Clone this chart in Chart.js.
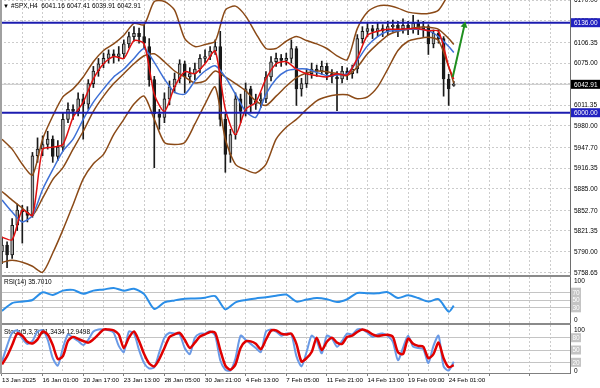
<!DOCTYPE html>
<html>
<head>
<meta charset="utf-8">
<script src="https://cdn.jsdelivr.net/npm/chart.js@4.4.1/dist/chart.umd.min.js"></script>
<style>
  html, body { margin: 0; padding: 0; background: #fff; }
  #wrap { position: relative; width: 600px; height: 388px; overflow: hidden; background: #fff; }
  canvas { position: absolute; left: 0; }
  .sep { position: absolute; left: 0; width: 571px; height: 2px; background: #8a8a8a; }
</style>
</head>
<body>
<div id="wrap">
  <canvas id="priceChart" width="600" height="275" style="top:0"></canvas>
  <canvas id="rsiChart" width="600" height="46" style="top:277px"></canvas>
  <canvas id="stochChart" width="600" height="63" style="top:325px"></canvas>
  <div class="sep" style="top:275px"></div>
  <div class="sep" style="top:323px"></div>
  <div class="sep" style="top:0;width:2px;height:374px;background:#a0a0a0"></div>
</div>
<script>
// time axis labels, one every 8 slots
const timeLabels = ["13 Jan 2025", "16 Jan 01:00", "20 Jan 17:00", "23 Jan 13:00", "28 Jan 05:00",
  "30 Jan 21:00", "4 Feb 13:00", "7 Feb 05:00", "11 Feb 21:00", "14 Feb 13:00", "19 Feb 09:00", "24 Feb 01:00"];

// candles (#SPX H4)
const opens = [5790,5800,5785,5830,5853,5850,5845,5935,5945,5952,
  5960,5934,5948,5990,6005,6002,6021,6013,6044,6063,
  6074,6082,6089,6085,6089,6104,6115,6120,6115,6100,
  6050,5998,5993,6021,6039,6051,6074,6054,6059,6066,
  6082,6085,6093,6100,5990,5937,5967,6021,6002,6036,
  6013,6018,6021,6054,6077,6082,6079,6082,6097,6036,
  6044,6059,6066,6063,6070,6059,6054,6051,6063,6059,
  6066,6112,6123,6127,6123,6127,6124,6130,6132,6127,
  6132,6127,6135,6127,6130,6104,6120,6112,6051,6041.16];
const highs = [5812,5805,5840,5862,5860,5858,5940,5962,5965,5972,
  5965,5958,6000,6015,6012,6030,6028,6050,6070,6082,
  6090,6095,6095,6100,6110,6122,6130,6128,6132,6112,
  6055,6005,6030,6048,6060,6080,6078,6068,6075,6088,
  6095,6100,6110,6123,5998,5975,6030,6028,6045,6040,
  6028,6030,6062,6085,6090,6088,6090,6110,6100,6052,
  6066,6075,6072,6078,6075,6065,6062,6070,6068,6072,
  6118,6130,6135,6132,6136,6133,6138,6140,6138,6142,
  6138,6147,6140,6138,6133,6125,6125,6115,6058,6047.41];
const lows = [5772,5766,5780,5822,5803,5835,5842,5925,5935,5945,
  5925,5928,5942,5985,5990,5995,5960,6005,6038,6055,
  6068,6075,6075,6078,6082,6098,6108,6105,6098,6040,
  5917,5975,5985,6012,6030,6045,6030,6045,6050,6060,
  6075,6080,6088,5980,5910,5925,5960,5985,5995,6000,
  6005,6008,6015,6048,6070,6070,6072,6075,6011,6025,
  6038,6052,6055,6058,6050,6045,6003,6045,6050,6052,
  6060,6105,6115,6112,6115,6115,6118,6122,6115,6120,
  6118,6120,6118,6115,6088,6098,6105,6025,6011,6039.91];
const closes = [5800,5785,5830,5853,5850,5845,5935,5945,5952,5960,
  5934,5948,5990,6005,6002,6021,6013,6044,6063,6074,
  6082,6089,6085,6089,6104,6115,6120,6115,6105,6050,
  5998,5993,6021,6039,6051,6074,6054,6059,6066,6082,
  6085,6093,6100,5990,5937,5967,6021,6002,6036,6013,
  6018,6021,6054,6077,6082,6079,6082,6097,6036,6044,
  6059,6066,6063,6070,6059,6054,6051,6063,6059,6066,
  6112,6123,6127,6123,6127,6124,6130,6132,6127,6132,
  6127,6135,6127,6130,6104,6120,6112,6051,6036,6042.91];

// indicator lines, read every second candle (last point = last candle)
const bbUpper = [5960,5945,5922,5906,5960,5995,6024,6036,6054,6077,
  6094,6104,6117,6135,6133,6168,6168,6155,6112,6100,
  6103,6108,6155,6161,6146,6120,6097,6097,6108,6115,
  6109,6104,6097,6086,6080,6127,6152,6161,6162,6158,
  6152,6150,6150,6155,6180,6196];
const bbMiddle = [5881,5868,5856,5845,5871,5899,5917,5945,5972,6002,
  6025,6044,6059,6074,6086,6089,6077,6063,6054,6045,
  6048,6063,6054,6044,6033,6018,6011,6025,6040,6053,
  6060,6063,6062,6059,6056,6069,6089,6104,6117,6123,
  6126,6129,6129,6126,6112,6103];
const bbLower = [5774,5777,5774,5768,5759,5788,5823,5861,5900,5923,
  5937,5967,5990,6013,6025,5990,5955,5952,5955,5983,
  6013,6039,5960,5922,5914,5909,5922,5960,5978,5990,
  6005,6018,6024,6027,6027,6021,6024,6039,6066,6094,
  6108,6112,6114,6109,6069,6045];
const maRed = [5812,5808,5853,5845,5945,5948,5952,5993,6016,6051,
  6074,6085,6082,6109,6104,6028,6002,6039,6062,6059,
  6074,6093,6005,5967,6005,6016,6051,6074,6077,6066,
  6059,6056,6054,6059,6057,6082,6117,6123,6126,6126,
  6127,6127,6124,6123,6070,6051];
const maBlue = [5868,5850,5835,5845,5884,5914,5942,5960,5990,6016,
  6036,6054,6066,6082,6097,6076,6051,6031,6028,6048,
  6063,6071,6054,6028,6002,5993,6028,6051,6063,6066,
  6066,6061,6056,6057,6059,6079,6101,6115,6123,6124,
  6126,6126,6124,6115,6100,6091];
const rsi = [22,42,46,50,70,63,74,76,66,74,
  77,81,74,79,65,27,44,49,53,54,
  56,60,26,44,50,54,57,61,64,46,
  51,55,52,45,52,68,67,67,70,55,
  62,55,46,52,20,35.701];

// stochastic, one value per candle
const stochMain = [22,60,92,98,78,65,72,95,98,75,
  30,12,55,88,80,72,62,75,95,100,
  100,98,92,60,45,95,90,50,18,5,
  8,45,80,92,90,88,55,40,80,90,
  90,96,85,25,2,0,30,85,75,65,
  55,45,95,100,95,85,90,88,35,10,
  45,85,72,42,85,78,58,72,90,88,
  100,100,92,82,88,90,84,70,25,55,
  85,58,55,52,18,60,85,10,0,21.3434];
const stochSignal = [15,35,62,90,85,70,66,76,95,88,
  62,28,35,72,82,77,72,68,76,88,
  100,100,98,88,55,80,95,72,40,17,
  10,28,55,82,88,92,75,55,68,83,
  88,94,92,50,12,2,15,55,71,71,
  65,52,75,97,98,90,88,90,65,22,
  30,45,80,50,70,80,68,65,82,85,
  94,100,96,88,84,86,87,82,45,40,
  78,65,60,58,30,40,68,30,8,12.9498];

const priceTicks = [6170, 6138.65, 6106.35, 6075, 6043.65, 6011.35, 5980, 5947.7,
  5916.35, 5885, 5852.7, 5821.35, 5790, 5758.65];
const levels = [6136, 6000];
const arrowFrom = { x: 88.8, y: 6054 };
const arrowTo = { x: 91.1, y: 6132 };

const xMin = -0.394, xMax = 111.9;
const gridX = [];
for (let v = 0; v <= 108; v += 4) gridX.push(v);
const last = closes.length - 1;
const FONT = '"Liberation Sans", "DejaVu Sans", sans-serif';
Chart.defaults.font.family = FONT;

const linePoints = arr => arr.map((y, k) => ({ x: Math.min(2 * k, last), y }));
const hline = (y) => [{ x: xMin, y }, { x: xMax, y }];

function line(data, color, width, order) {
  return { type: "line", data, borderColor: color, borderWidth: width, pointRadius: 0,
    tension: 0.25, order };
}

function xAxis(extra) {
  return Object.assign({
    type: "linear", min: xMin, max: xMax, offset: false,
    afterBuildTicks: s => { s.ticks = gridX.map(v => ({ value: v })); },
    ticks: { display: false },
    grid: { color: "#cccccc", drawTicks: false, offset: false },
    border: { display: false, dash: [2, 2] },
    afterFit: s => { s.height = 0; s.paddingLeft = 0; s.paddingRight = 0; },
  }, extra || {});
}

// right value axis; its text is painted by the axisText plugin at the scale's own pixels
function yAxis(min, max, ticks, extra) {
  return Object.assign({
    position: "right", min, max,
    afterBuildTicks: s => { s.ticks = ticks.map(v => ({ value: v })); },
    ticks: { display: false },
    grid: { color: "#cccccc", drawTicks: false },
    border: { color: "#6e6e6e", width: 1, dash: [2, 2] },
    afterFit: s => { s.width = 30; s.paddingTop = 0; s.paddingBottom = 0; },
  }, extra || {});
}

// plain and boxed labels on the right axis
const axisText = {
  id: "axisText",
  afterDraw(chart, args, opts) {
    const { ctx, chartArea, scales } = chart;
    ctx.save();
    ctx.font = "6.5px " + FONT;
    ctx.textBaseline = "middle";
    (opts.items || []).forEach(it => {
      const py = scales.y.getPixelForValue(it.value);
      const w = it.w || 29;
      if (it.bg) {
        ctx.fillStyle = it.bg;
        ctx.fillRect(chartArea.right + 1, py - 4.5, w, 9);
      }
      ctx.fillStyle = it.fg || "#000";
      ctx.textAlign = it.w ? "center" : "left";
      ctx.fillText(it.text, it.w ? chartArea.right + 1 + w / 2 : chartArea.right + 4, py + 0.5);
    });
    ctx.restore();
  }
};

const panelTitle = {
  id: "panelTitle",
  beforeDatasetsDraw(chart, args, opts) {
    const ctx = chart.ctx;
    ctx.save();
    ctx.font = "6.5px " + FONT;
    ctx.fillStyle = "#000";
    ctx.textBaseline = "middle";
    ctx.fillText(opts.text, opts.x, opts.y);
    ctx.restore();
  }
};

const common = {
  responsive: false, animation: false, devicePixelRatio: 1,
  layout: { padding: 0, autoPadding: false },
  plugins: { legend: { display: false }, tooltip: { enabled: false } },
};

const plainLabels = (vals, fmt) => vals.map(v => ({ value: v, text: fmt(v) }));

// ---- price panel
new Chart(document.getElementById("priceChart"), {
  type: "bar",
  data: {
    datasets: [
      line(hline(closes[last]), "#c4c4c4", 1, 20),
      { type: "bar", data: lows.map((l, i) => ({ x: i, y: [l, highs[i]] })),
        backgroundColor: "#1a1a1a", barThickness: 1, grouped: false, order: 12 },
      { type: "bar", data: opens.map((o, i) => ({ x: i, y: [o, closes[i]] })),
        backgroundColor: c => closes[c.dataIndex] >= opens[c.dataIndex] ? "#a8a8a8" : "#1a1a1a",
        borderColor: "#1a1a1a", borderWidth: 1, borderSkipped: false,
        barThickness: 3, grouped: false, order: 11 },
      line(linePoints(bbUpper), "#8b4a17", 1.5, 6),
      line(linePoints(bbMiddle), "#8b4a17", 1.5, 6),
      line(linePoints(bbLower), "#8b4a17", 1.5, 6),
      line(linePoints(maBlue), "#3d6fd6", 1.5, 5),
      line(linePoints(maRed), "#e01010", 1.5, 4),
      line(hline(levels[0]), "#1c1cb0", 2, 3),
      line(hline(levels[1]), "#1c1cb0", 2, 3),
      { type: "line", data: [arrowFrom, arrowTo], borderColor: "#1f8f1f", borderWidth: 2,
        pointRadius: [0, 4], pointStyle: "triangle", pointRotation: 13,
        pointBackgroundColor: "#1f8f1f", pointBorderWidth: 0, order: 1, clip: false },
    ]
  },
  options: Object.assign({}, common, {
    scales: {
      x: xAxis(),
      y: yAxis(5754.8, 6170.3, priceTicks),
    },
    plugins: Object.assign({}, common.plugins, {
      axisText: { items: plainLabels(priceTicks, v => v.toFixed(2)).concat([
        { value: levels[0], text: levels[0].toFixed(2), bg: "#2222c0", fg: "#fff" },
        { value: closes[last], text: closes[last].toFixed(2), bg: "#000", fg: "#fff" },
        { value: levels[1], text: levels[1].toFixed(2), bg: "#2222c0", fg: "#fff" },
      ]) },
      panelTitle: { x: 11, y: 6, text: "#SPX,H4  " + [opens[last], highs[last], lows[last], closes[last]].map(v => v.toFixed(2)).join(" ") },
    }),
  }),
  plugins: [axisText, panelTitle, {
    id: "menuMark",
    afterDraw(chart) {
      const ctx = chart.ctx;
      ctx.save();
      ctx.font = "6px " + FONT;
      ctx.fillStyle = "#000";
      ctx.textBaseline = "middle";
      ctx.fillText("\u25BC", 3, 6);
      ctx.restore();
    }
  }],
});

const levelGrid = c => (c.tick && (c.tick.value === 0 || c.tick.value === 100)) ? "rgba(0,0,0,0)" : "#c4c4c4";

// ---- RSI panel
new Chart(document.getElementById("rsiChart"), {
  type: "line",
  data: { datasets: [ line(linePoints(rsi), "#2a8ee8", 2, 1) ] },
  options: Object.assign({}, common, {
    scales: {
      x: xAxis(),
      y: yAxis(-9, 109, [0, 30, 50, 70, 100], {
        grid: { drawTicks: false, color: levelGrid },
        border: { color: "#6e6e6e", width: 1 },
      }),
    },
    plugins: Object.assign({}, common.plugins, {
      axisText: { items: plainLabels([100, 0], String).concat(
        [70, 50, 30].map(v => ({ value: v, text: String(v), bg: "#c4c4c4", fg: "#ffffff", w: 10 }))) },
      panelTitle: { x: 4, y: 5, text: "RSI(14) " + rsi[rsi.length - 1].toFixed(4) },
    }),
  }),
  plugins: [axisText, panelTitle],
});

// ---- Stochastic panel
new Chart(document.getElementById("stochChart"), {
  type: "line",
  data: { datasets: [
    line(stochMain.map((y, i) => ({ x: i, y })), "#6a9ae6", 2, 2),
    line(stochSignal.map((y, i) => ({ x: i, y })), "#e00000", 2.5, 1),
  ] },
  options: Object.assign({}, common, {
    scales: {
      x: xAxis({
        position: "bottom",
        ticks: { display: true, autoSkip: false, maxRotation: 0, align: "start", padding: 1,
          color: "#000", font: { size: 6.2 },
          callback: v => (v % 8 === 0 && timeLabels[v / 8]) ? timeLabels[v / 8] : "" },
        grid: { color: "#cccccc", drawTicks: true, tickLength: 3, offset: false,
          tickColor: c => (c.tick && c.tick.value % 8 === 0) ? "#808080" : "rgba(0,0,0,0)" },
        border: { display: true, color: "#808080", width: 1, dash: [2, 2] },
        afterFit: s => { s.height = 15; s.paddingLeft = 0; s.paddingRight = 0; },
      }),
      y: yAxis(-6.1, 111, [0, 20, 50, 80, 100], {
        grid: { drawTicks: false, color: levelGrid },
        border: { color: "#6e6e6e", width: 1 },
      }),
    },
    plugins: Object.assign({}, common.plugins, {
      axisText: { items: plainLabels([100, 0], String).concat(
        [80, 50, 20].map(v => ({ value: v, text: String(v), bg: "#c4c4c4", fg: "#ffffff", w: 10 }))) },
      panelTitle: { x: 4, y: 7, text: "Stoch(5,3,3) " + stochMain[last].toFixed(4) + " " + stochSignal[last].toFixed(4) },
    }),
  }),
  plugins: [axisText, panelTitle],
});
</script>
</body>
</html>
